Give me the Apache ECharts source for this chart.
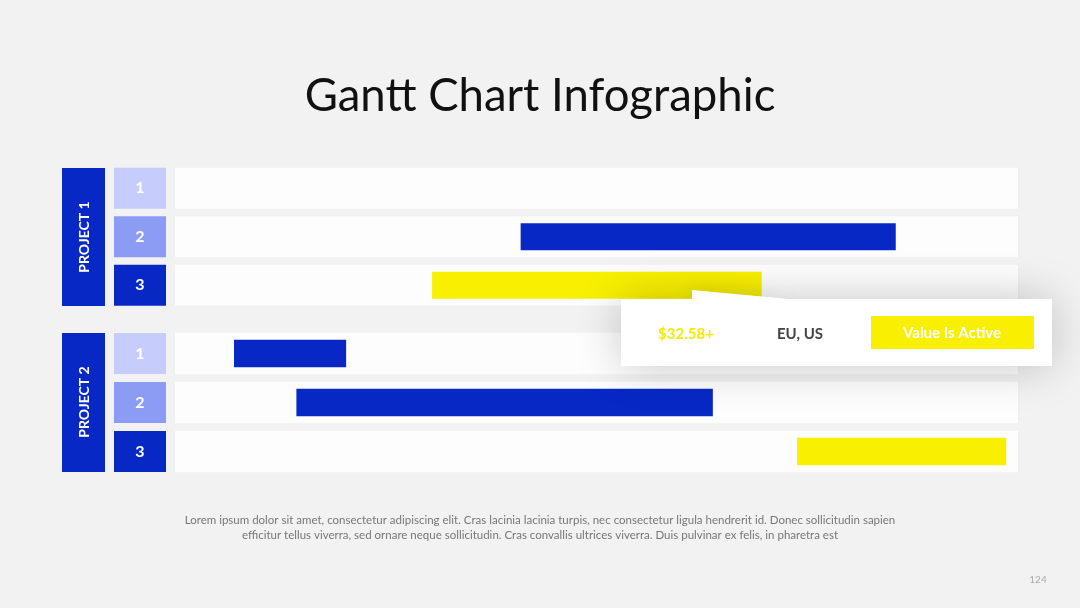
<!DOCTYPE html>
<html>
<head>
<meta charset="utf-8">
<script src="https://cdn.jsdelivr.net/npm/echarts@6/dist/echarts.min.js"></script>
<style>
	html, body { margin: 0; padding: 0; background: #f2f2f2; }
	#main { width: 1080px; height: 608px; }
</style>
</head>
<body>
<div id="main"></div>
<script>
// data
var projects = ['PROJECT 1', 'PROJECT 2'];
var tasks = ['1', '2', '3'];
// start / end on a 0..100 timeline, null = no bar
var startP1 = [null, 41.0, 30.5];
var endP1 = [null, 85.5, 69.6];
var kindP1 = [null, 'blue', 'yellow'];
var startP2 = [7.0, 14.4, 73.8];
var endP2 = [20.3, 63.8, 98.6];
var kindP2 = ['blue', 'blue', 'yellow'];
var callout = ['$32.58+', 'EU, US', 'Value Is Active'];
var footer = 'Lorem ipsum dolor sit amet, consectetur adipiscing elit. Cras lacinia lacinia turpis, nec consectetur ligula hendrerit id. Donec sollicitudin sapien\nefficitur tellus viverra, sed ornare neque sollicitudin. Cras convallis ultrices viverra. Duis pulvinar ex felis, in pharetra est';

var BLUE = '#0828c6';
var YELLOW = '#f8f000';
var boxColors = ['#c6ccfb', '#8c9cf5', '#0828c6'];
var font = 'Lato, "Open Sans", sans-serif';

function barData(start, end, kind) {
	var out = [];
	for (var i = 0; i < start.length; i++) {
		if (start[i] == null) continue;
		out.push({ value: [start[i], end[i], i], color: kind[i] == 'blue' ? BLUE : YELLOW });
	}
	return out;
}

function trackItem(params, api) {
	var c = api.coord([0, api.value(0)]);
	var w = api.size([100, 0])[0];
	var h = api.size([0, 1])[1] * 0.845;
	return {
		type: 'rect',
		shape: { x: c[0], y: c[1] - h / 2, width: w, height: h },
		style: { fill: '#fdfdfd', shadowBlur: 3, shadowColor: 'rgba(0,0,0,0.04)' }
	};
}

function makeBarItem(data) {
	return function(params, api) {
		var s = api.coord([api.value(0), api.value(2)]);
		var e = api.coord([api.value(1), api.value(2)]);
		var h = api.size([0, 1])[1] * 0.557;
		return {
			type: 'rect',
			shape: { x: s[0], y: s[1] - h / 2, width: e[0] - s[0], height: h },
			style: { fill: data[params.dataIndex].color }
		};
	};
}

var rich = {};
boxColors.forEach(function(c, i) {
	rich['b' + i] = {
		width: 52, height: 41, lineHeight: 41, align: 'center',
		backgroundColor: c, color: '#fff', fontSize: 16, fontWeight: 'bold', fontFamily: font
	};
});

function yAxisFor(gridIndex) {
	return {
		type: 'category', gridIndex: gridIndex, data: tasks, inverse: true,
		axisLine: { show: false }, axisTick: { show: false }, splitLine: { show: false },
		axisLabel: {
			margin: 9,
			formatter: function(v) { return '{b' + tasks.indexOf(v) + '|' + v + '}'; },
			rich: rich
		}
	};
}

function xAxisFor(gridIndex) {
	return { type: 'value', gridIndex: gridIndex, min: 0, max: 100, show: false };
}

var bars1 = barData(startP1, endP1, kindP1);
var bars2 = barData(startP2, endP2, kindP2);
var trackData = tasks.map(function(t, i) { return [i]; });

var myChart = echarts.init(document.getElementById('main'));
var option = {
	backgroundColor: '#f2f2f2',
	animation: false,
	title: {
		text: 'Gantt Chart Infographic',
		left: 'center', top: 68,
		textStyle: { fontSize: 45.5, fontWeight: 'normal', color: '#111', fontFamily: font }
	},
	grid: [
		{ left: 175, width: 843, top: 164, height: 145.5 },
		{ left: 175, width: 843, top: 329, height: 147 }
	],
	xAxis: [xAxisFor(0), xAxisFor(1)],
	yAxis: [yAxisFor(0), yAxisFor(1)],
	series: [
		{ type: 'custom', xAxisIndex: 0, yAxisIndex: 0, renderItem: trackItem, data: trackData, encode: { y: 0 }, silent: true },
		{ type: 'custom', xAxisIndex: 1, yAxisIndex: 1, renderItem: trackItem, data: trackData, encode: { y: 0 }, silent: true },
		{ type: 'custom', xAxisIndex: 0, yAxisIndex: 0, renderItem: makeBarItem(bars1), data: bars1, encode: { x: [0, 1], y: 2 } },
		{ type: 'custom', xAxisIndex: 1, yAxisIndex: 1, renderItem: makeBarItem(bars2), data: bars2, encode: { x: [0, 1], y: 2 } }
	],
	graphic: [
		// project labels
		{ type: 'rect', left: 62, top: 168, shape: { width: 43, height: 138 }, style: { fill: BLUE } },
		{ type: 'rect', left: 62, top: 333, shape: { width: 43, height: 139 }, style: { fill: BLUE } },
		{ type: 'text', x: 84, y: 237, rotation: Math.PI / 2,
		  style: { text: projects[0], fill: '#fff', font: 'bold 14px ' + font, textAlign: 'center', textVerticalAlign: 'middle' } },
		{ type: 'text', x: 84, y: 402, rotation: Math.PI / 2,
		  style: { text: projects[1], fill: '#fff', font: 'bold 14px ' + font, textAlign: 'center', textVerticalAlign: 'middle' } },
		// callout
		{ type: 'rect', shape: { x: 621, y: 299, width: 431, height: 67 }, z: 10,
		  style: { fill: '#fff', shadowBlur: 45, shadowColor: 'rgba(0,0,0,0.22)' } },
		{ type: 'polygon', shape: { points: [[692, 290], [692, 300], [800, 300]] }, z: 10,
		  style: { fill: '#fff', shadowBlur: 20, shadowColor: 'rgba(0,0,0,0.15)' } },
		{ type: 'rect', shape: { x: 621, y: 299, width: 431, height: 67 }, z: 11, style: { fill: '#fff' } },
		{ type: 'text', x: 686, y: 334, z: 12,
		  style: { text: callout[0], fill: '#f5ea00', font: 'bold 15px ' + font, textAlign: 'center', textVerticalAlign: 'middle' } },
		{ type: 'text', x: 800, y: 334, z: 12,
		  style: { text: callout[1], fill: '#444', font: 'bold 15px ' + font, textAlign: 'center', textVerticalAlign: 'middle' } },
		{ type: 'rect', shape: { x: 871, y: 316, width: 163, height: 33 }, z: 12, style: { fill: YELLOW } },
		{ type: 'text', x: 952, y: 333, z: 13,
		  style: { text: callout[2], fill: '#fff', font: 'bold 15px ' + font, textAlign: 'center', textVerticalAlign: 'middle' } },
		// footer
		{ type: 'text', x: 540, y: 513,
		  style: { text: footer, fill: '#777', font: '11.5px ' + font, textAlign: 'center', lineHeight: 15 } },
		{ type: 'text', x: 1038, y: 580,
		  style: { text: '124', fill: '#aaa', font: '10px ' + font, textAlign: 'center', textVerticalAlign: 'middle' } }
	]
};
myChart.setOption(option);
</script>
</body>
</html>
